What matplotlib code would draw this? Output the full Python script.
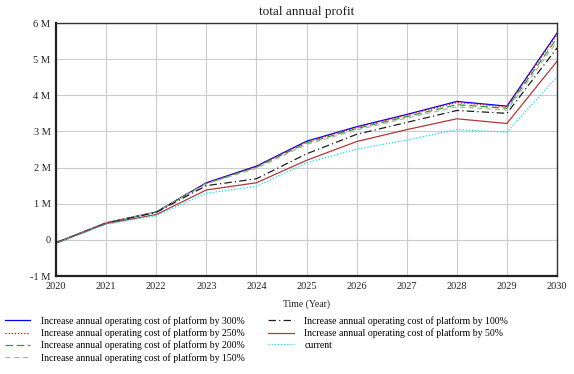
import matplotlib.pyplot as plt
from matplotlib.ticker import FuncFormatter

years = [2020, 2021, 2022, 2023, 2024, 2025, 2026, 2027, 2028, 2029, 2030]

# profit in millions
p300 = [-0.08, 0.47, 0.77, 1.58, 2.04, 2.73, 3.13, 3.47, 3.83, 3.70, 5.72]
p250 = [-0.08, 0.47, 0.77, 1.57, 2.03, 2.71, 3.11, 3.45, 3.80, 3.68, 5.68]
p200 = [-0.08, 0.47, 0.77, 1.56, 2.01, 2.68, 3.08, 3.41, 3.74, 3.64, 5.58]
p150 = [-0.08, 0.47, 0.77, 1.55, 1.98, 2.64, 3.04, 3.37, 3.68, 3.59, 5.48]
p100 = [-0.08, 0.46, 0.76, 1.50, 1.69, 2.38, 2.92, 3.25, 3.58, 3.50, 5.31]
p50 = [-0.09, 0.45, 0.70, 1.38, 1.58, 2.20, 2.72, 3.05, 3.35, 3.22, 4.94]
current = [-0.10, 0.43, 0.67, 1.29, 1.48, 2.13, 2.51, 2.76, 3.05, 2.98, 4.51]

labels = [
    "Increase annual operating cost of platform by 300%",
    "Increase annual operating cost of platform by 250%",
    "Increase annual operating cost of platform by 200%",
    "Increase annual operating cost of platform by 150%",
    "Increase annual operating cost of platform by 100%",
    "Increase annual operating cost of platform by 50%",
    "current",
]

plt.rcParams["font.family"] = ["Liberation Serif", "DejaVu Serif"]

fig = plt.figure(figsize=(5.74, 3.74), dpi=100)
ax = fig.add_axes([0.0976, 0.262, 0.8728, 0.6765])

styles = [
    dict(color="#0000ff", linestyle="-", linewidth=0.9),
    dict(color="#ff0000", linestyle=(0, (1, 1.5)), linewidth=0.9),
    dict(color="#2ca02c", linestyle=(0, (6, 3)), linewidth=0.9),
    dict(color="#b0b0b0", linestyle=(0, (4, 3)), linewidth=0.9),
    dict(color="#202020", linestyle=(0, (6, 2.5, 1, 2.5)), linewidth=0.9),
    dict(color="#b03a3a", linestyle="-", linewidth=0.9),
    dict(color="#00e5ee", linestyle=(0, (1, 1.5)), linewidth=0.9),
]
series = [p300, p250, p200, p150, p100, p50, current]
for vals, lab, st in zip(series, labels, styles):
    ax.plot(years, [v * 1e6 for v in vals], label=lab, **st)

ax.set_xlim(2020, 2030)
ax.set_ylim(-1e6, 6e6)
ax.set_xticks(years)
ax.set_yticks([i * 1e6 for i in range(-1, 7)])
ax.yaxis.set_major_formatter(FuncFormatter(lambda v, p: "0" if abs(v) < 1 else f"{int(round(v / 1e6))} M"))
ax.tick_params(length=0, labelsize=7.5, colors="#222222")
ax.tick_params(axis="x", pad=4)
ax.tick_params(axis="y", pad=4)
ax.grid(True, color="#cccccc", linewidth=0.8)
ax.set_axisbelow(True)
for side in ["top", "right"]:
    ax.spines[side].set_linewidth(1.0)
    ax.spines[side].set_color("#333333")
for side in ["left", "bottom"]:
    ax.spines[side].set_linewidth(1.6)
    ax.spines[side].set_color("#222222")

ax.set_title("total annual profit", fontsize=9.5, pad=6, color="#222222")
ax.set_xlabel("Time (Year)", fontsize=7, labelpad=6, color="#222222")

fig.legend(
    loc="upper left",
    bbox_to_anchor=(0.004, 0.163),
    ncol=2,
    frameon=False,
    fontsize=7,
    handlelength=2.6,
    handletextpad=1.1,
    columnspacing=2.4,
    labelspacing=0.27,
    borderaxespad=0.0,
    borderpad=0.3,
)

fig.savefig("out.png", dpi=100)
